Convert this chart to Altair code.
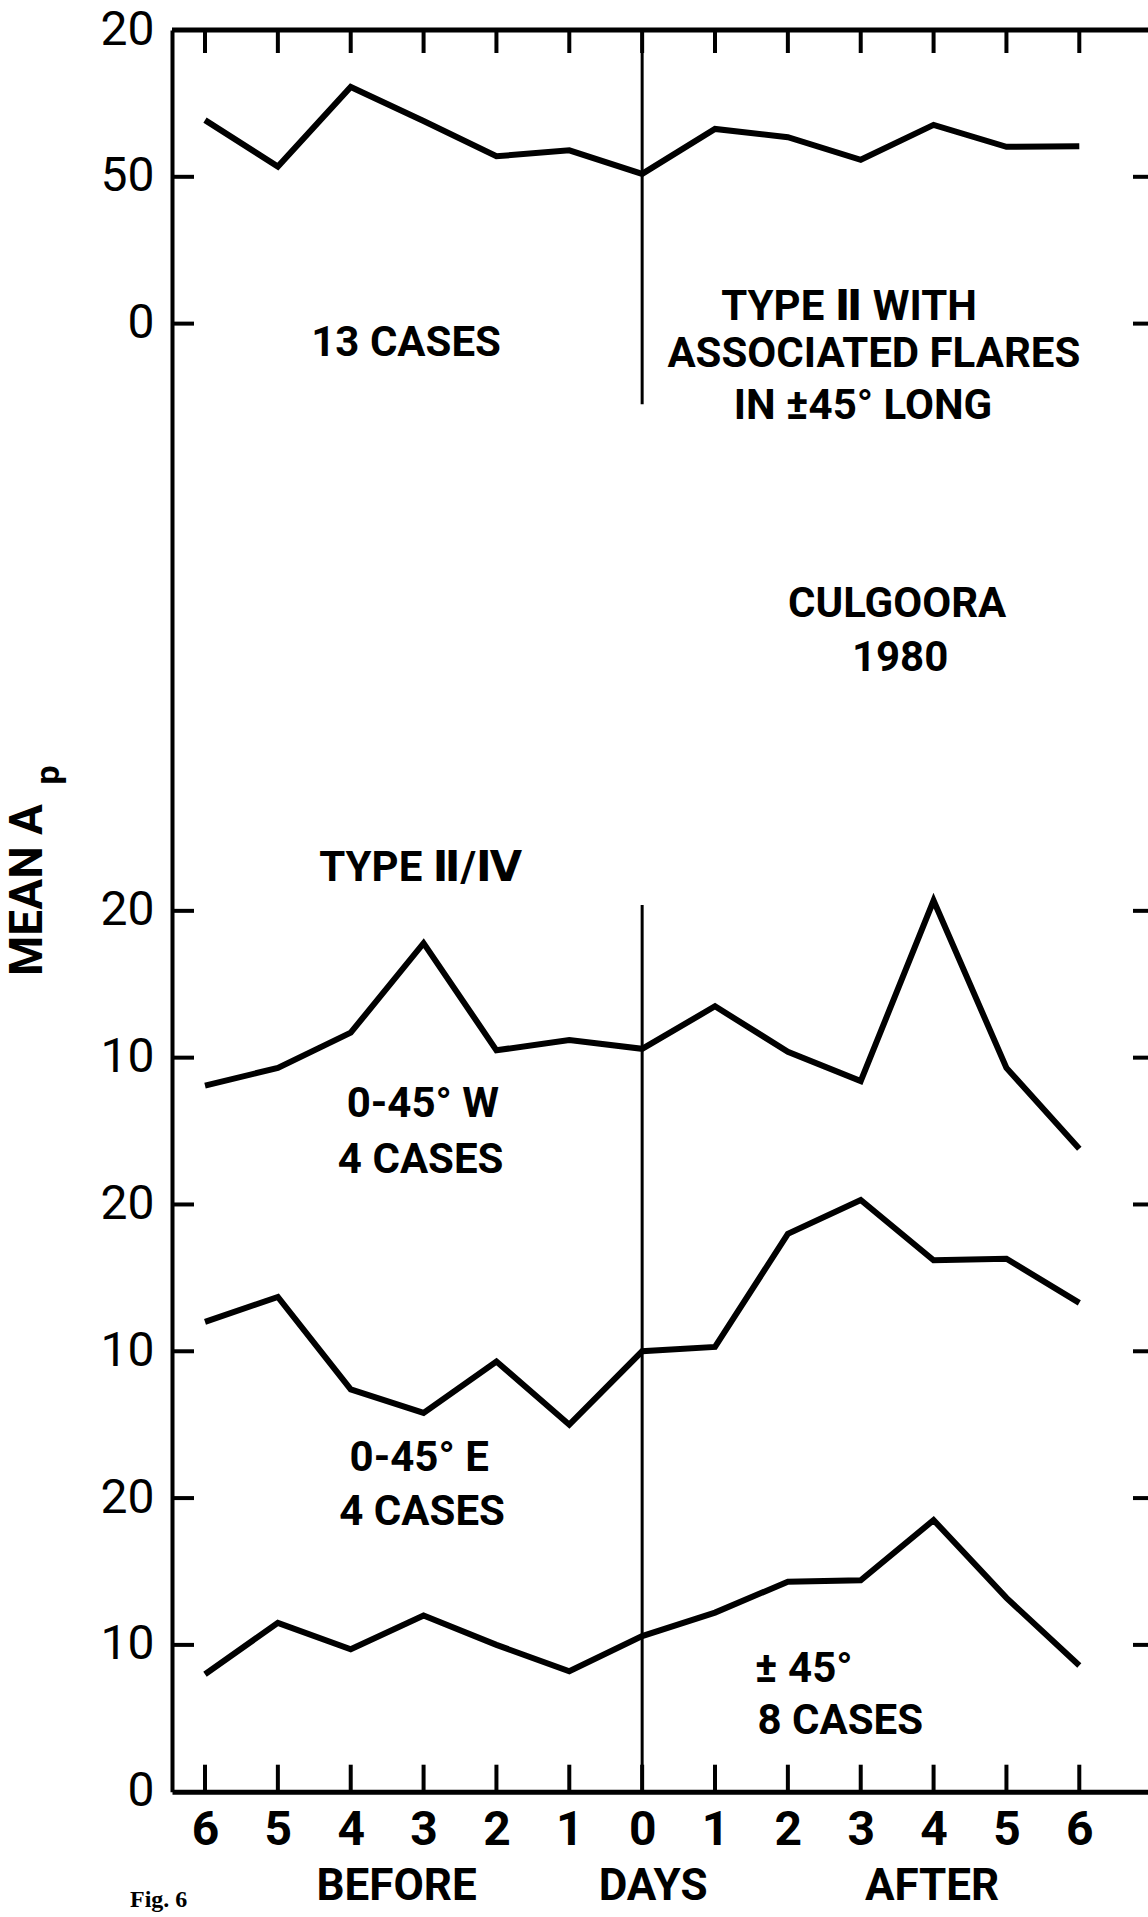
import altair as alt
import pandas as pd

# ---------------- data ----------------
days = list(range(-6, 7))
day_labels = ["6", "5", "4", "3", "2", "1", "0", "1", "2", "3", "4", "5", "6"]

# mean Ap, 13 cases (top panel)
ap_all = [69.3, 53.5, 80.6, 69.0, 57.0, 59.0, 51.0, 66.3, 63.5, 55.8, 67.7, 60.2, 60.4]
# 0-45 W, 4 cases
ap_w = [8.1, 9.3, 11.7, 17.8, 10.5, 11.2, 10.6, 13.5, 10.4, 8.4, 20.7, 9.3, 3.8]
# 0-45 E, 4 cases
ap_e = [12.0, 13.7, 7.4, 5.8, 9.3, 5.0, 10.0, 10.3, 18.0, 20.3, 16.2, 16.3, 13.3]
# +-45, 8 cases
ap_pm = [8.0, 11.5, 9.7, 12.0, 10.0, 8.2, 10.6, 12.2, 14.3, 14.4, 18.5, 13.2, 8.6]

series_names = ["all", "w", "e", "pm"]
series_values = [ap_all, ap_w, ap_e, ap_pm]
# stacked panel placement on the common vertical scale: (base, factor)
panel_base = [100, 40, 20, 0]
panel_factor = [0.2, 1.0, 1.0, 1.0]

y_tick_pos = [0, 10, 20, 30, 40, 50, 60, 100, 110, 120]
y_tick_labels = ["0", "10", "20", "10", "20", "10", "20", "0", "50", "20"]
inner_tick_pos = [10, 20, 30, 40, 50, 60, 100, 110]

vline_from = [0, 94.5]
vline_to = [60.4, 120]

ann_text = ["13 CASES", "TYPE \u2161 WITH", "ASSOCIATED FLARES", "IN \u00b145\u00b0 LONG",
            "CULGOORA", "1980", "TYPE \u2161/\u2163", "0-45\u00b0 W", "4 CASES",
            "0-45\u00b0 E", "4 CASES", "\u00b1 45\u00b0", "8 CASES"]
ann_day = [-3.24, 2.84, 3.18, 3.03, 3.50, 3.54, -3.04, -3.01, -3.04, -3.06, -3.02, 2.22, 2.72]
ann_unit = [98.7, 101.1, 97.9, 94.4, 80.9, 77.2, 62.9, 46.85, 43.0, 22.7, 19.05, 8.36, 4.82]

foot_text = ["BEFORE", "DAYS", "AFTER"]
foot_day = [-3.37, 0.15, 3.98]
foot_unit = [-6.5, -6.5, -6.5]

# ---------------- tables ----------------
rows = []
for name, vals, base, fac in zip(series_names, series_values, panel_base, panel_factor):
    for d, v in zip(days, vals):
        rows.append({"series": name, "day": d, "ap": v, "y": base + fac * v})
lines_df = pd.DataFrame(rows)
days_df = pd.DataFrame({"day": days})
inner_df = pd.DataFrame({"pos": inner_tick_pos})
vline_df = pd.DataFrame({"day": [0, 0], "y1": vline_from, "y2": vline_to})
ann_df = pd.DataFrame({"text": ann_text, "day": ann_day, "y": ann_unit})
foot_df = pd.DataFrame({"text": foot_text, "day": foot_day, "y": foot_unit})
one_df = pd.DataFrame({"k": [0]})

W = 976
H = 1761.7
FONT = "Roboto, DejaVu Sans, Liberation Sans"


def ternary(vals, labels):
    expr = "''"
    for v, l in reversed(list(zip(vals, labels))):
        expr = f"datum.value == {v} ? '{l}' : ({expr})"
    return expr


xsc = alt.Scale(domain=[-6.453, 6.943], nice=False, zero=False)
ysc = alt.Scale(domain=[0, 120], nice=False, zero=False)

xax = alt.Axis(values=days, labelExpr=ternary(days, day_labels), title=None, grid=False,
               ticks=False, tickSize=0, domain=True, domainColor="black", domainWidth=5,
               labelFont=FONT, labelFontWeight="bold", labelFontSize=48, labelColor="black",
               labelPadding=15, labelFlush=False, labelOverlap=False)
yax = alt.Axis(values=y_tick_pos, labelExpr=ternary(y_tick_pos, y_tick_labels), title=None,
               grid=False, ticks=False, tickSize=0, domain=True, domainColor="black",
               domainWidth=4, labelFont=FONT, labelFontSize=48, labelColor="black",
               labelPadding=18, labelFlush=False, labelOverlap=False)

X = lambda f: alt.X(f, scale=xsc, axis=xax)
Y = lambda f: alt.Y(f, scale=ysc, axis=yax)

top_frame = alt.Chart(one_df).mark_rule(color="black", strokeWidth=5).encode(
    x=alt.value(0), x2=alt.value(W), y=alt.value(0))

bottom_ticks = alt.Chart(days_df).mark_rule(color="black", strokeWidth=4).encode(
    x=X("day:Q"), y=alt.value(H), y2=alt.value(H - 27))
top_ticks = alt.Chart(days_df).mark_rule(color="black", strokeWidth=4).encode(
    x=X("day:Q"), y=alt.value(0), y2=alt.value(23))
left_ticks = alt.Chart(inner_df).mark_rule(color="black", strokeWidth=4).encode(
    y=Y("pos:Q"), x=alt.value(0), x2=alt.value(22))
right_ticks = alt.Chart(inner_df).mark_rule(color="black", strokeWidth=4).encode(
    y=Y("pos:Q"), x=alt.value(W - 15), x2=alt.value(W))

vlines = alt.Chart(vline_df).mark_rule(color="black", strokeWidth=3).encode(
    x=X("day:Q"), y=Y("y1:Q"), y2="y2:Q")

lines = alt.Chart(lines_df).mark_line(color="black", strokeWidth=6, strokeJoin="miter").encode(
    x=X("day:Q"), y=Y("y:Q"), detail="series:N", order="day:Q")

ann = alt.Chart(ann_df).mark_text(font=FONT, fontWeight="bold", fontSize=42, color="black",
                                  align="center", baseline="middle").encode(
    x=X("day:Q"), y=Y("y:Q"), text="text:N")

foot = alt.Chart(foot_df).mark_text(font=FONT, fontWeight="bold", fontSize=44, color="black",
                                    align="center", baseline="middle").encode(
    x=X("day:Q"), y=Y("y:Q"), text="text:N")

fig_lbl = alt.Chart(one_df).mark_text(font="Liberation Serif", fontWeight="bold", fontSize=24,
                                      color="black", align="left", baseline="middle").encode(
    x=alt.value(130 - 172), y=alt.value(1900 - 30), text=alt.value("Fig. 6"))

ytitle = alt.Chart(one_df).mark_text(font=FONT, fontWeight="bold", fontSize=46, color="black",
                                     angle=270, align="center", baseline="middle").encode(
    x=alt.value(27.5 - 172), y=alt.value(890 - 30), text=alt.value("MEAN A"))
ytitle_sub = alt.Chart(one_df).mark_text(font=FONT, fontWeight="bold", fontSize=34, color="black",
                                         angle=270, align="center", baseline="middle").encode(
    x=alt.value(49 - 172), y=alt.value(775 - 30), text=alt.value("p"))

chart = alt.layer(
    top_frame, bottom_ticks, top_ticks, left_ticks, right_ticks, vlines, lines,
    ann, foot, fig_lbl, ytitle, ytitle_sub
).properties(
    width=W, height=H,
    padding={"left": 172, "top": 30, "right": 0, "bottom": 125.3},
    autosize=alt.AutoSizeParams(type="none"),
    background="white",
).configure_view(stroke=None)

chart.save("out.html", embed_options={"renderer": "svg", "actions": False})
